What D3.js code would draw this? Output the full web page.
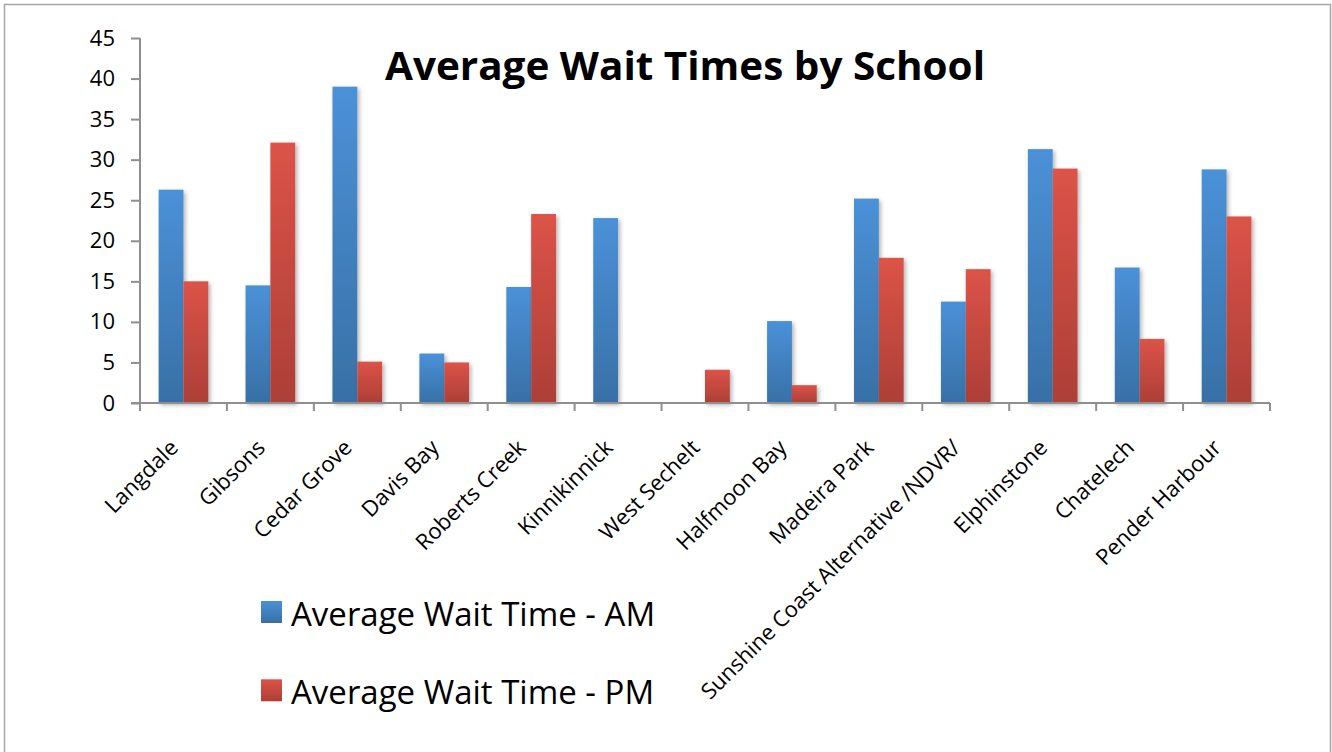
<!DOCTYPE html>
<html>
<head>
<meta charset="utf-8">
<script src="https://cdn.jsdelivr.net/npm/d3@7"></script>
<style>
  body { margin: 0; background: #fff; }
  svg { display: block; font-family: "Open Sans", sans-serif; }
</style>
</head>
<body>
<svg id="chart" width="1332" height="752"></svg>
<script>
"use strict";

// Chart data
const schools = ["Langdale", "Gibsons", "Cedar Grove", "Davis Bay", "Roberts Creek",
    "Kinnikinnick", "West Sechelt", "Halfmoon Bay", "Madeira Park",
    "Sunshine Coast Alternative /NDVR/", "Elphinstone", "Chatelech", "Pender Harbour"];
const waitAM = [26.3, 14.5, 39.0, 6.1, 14.3, 22.8, 0, 10.1, 25.2, 12.5, 31.3, 16.7, 28.8];
const waitPM = [15.0, 32.1, 5.1, 5.0, 23.3, 0, 4.1, 2.2, 17.9, 16.5, 28.9, 7.9, 23.0];
const seriesNames = ["Average Wait Time - AM", "Average Wait Time - PM"];
const yTicks = [0, 5, 10, 15, 20, 25, 30, 35, 40, 45];

const svg = d3.select("#chart");

// outer frame (bottom edge falls off the picture)
svg.append("path")
    .attr("d", "M4.5,760 V4.5 H1330.5 V760")
    .attr("fill", "none")
    .attr("stroke", "#a6a6a6")
    .attr("stroke-width", 1.5);

const plot = { left: 140, right: 1270, top: 38, bottom: 403 };

const x0 = d3.scaleBand()
    .domain(schools)
    .range([plot.left, plot.right])
    .paddingInner(0)
    .paddingOuter(0);

// Excel style 150% gap: pair of bars takes 2/(2+1.5) of the band
const pairW = x0.bandwidth() * 2 / 3.5;
const x1 = d3.scaleBand()
    .domain([0, 1])
    .range([0, pairW]);

const y = d3.scaleLinear()
    .domain([0, 45])
    .range([plot.bottom, plot.top]);

// gradients + shadow
const defs = svg.append("defs");
const grads = [
    { id: "gAM", top: "#4b91d8", bottom: "#3870a6" },
    { id: "gPM", top: "#dc5348", bottom: "#ac3f37" }
];
grads.forEach(g => {
    const lg = defs.append("linearGradient")
        .attr("id", g.id)
        .attr("x1", 0).attr("y1", 0).attr("x2", 0).attr("y2", 1);
    lg.append("stop").attr("offset", "0%").attr("stop-color", g.top);
    lg.append("stop").attr("offset", "100%").attr("stop-color", g.bottom);
});
const shadow = defs.append("filter")
    .attr("id", "shadow")
    .attr("x", "-20%").attr("y", "-10%").attr("width", "150%").attr("height", "130%");
shadow.append("feDropShadow")
    .attr("dx", 2).attr("dy", 2).attr("stdDeviation", 2.2)
    .attr("flood-color", "#000").attr("flood-opacity", 0.3);

// gridlines
svg.append("g")
    .selectAll("line")
    .data(yTicks.slice(1))
    .enter().append("line")
        .attr("x1", plot.left - 9)
        .attr("x2", plot.right)
        .attr("y1", d => y(d))
        .attr("y2", d => y(d))
        .attr("stroke", "#8f8f8f")
        .attr("stroke-width", 2)
        .attr("filter", "url(#shadow)");

// y axis
const yAxis = d3.axisLeft(y)
    .tickValues(yTicks)
    .tickSize(9)
    .tickPadding(16)
    .tickFormat(d3.format("d"));
const yg = svg.append("g")
    .attr("transform", `translate(${plot.left},0)`)
    .call(yAxis);
yg.select(".domain")
    .attr("d", `M0,${plot.top} V${plot.bottom + 8}`)
    .attr("stroke", "#8f8f8f").attr("stroke-width", 2);
yg.selectAll(".tick line").attr("stroke", "#8f8f8f").attr("stroke-width", 2);
yg.selectAll(".tick text")
    .style("font-size", "22px")
    .style("font-family", "'Open Sans', sans-serif")
    .attr("fill", "#000");

// bars
const bars = svg.append("g");
[waitAM, waitPM].forEach((vals, s) => {
    bars.append("g")
        .selectAll("rect")
        .data(vals.map((v, i) => ({ school: schools[i], value: v })).filter(d => d.value > 0))
        .enter().append("rect")
            .attr("x", d => x0(d.school) + (x0.bandwidth() - pairW) / 2 + x1(s))
            .attr("y", d => y(d.value))
            .attr("width", x1.bandwidth())
            .attr("height", d => y(0) - y(d.value))
            .attr("fill", `url(#${grads[s].id})`)
            .attr("filter", "url(#shadow)");
});

// x axis
const xAxis = d3.axisBottom(x0).tickSize(0).tickFormat("");
const xg = svg.append("g")
    .attr("transform", `translate(0,${plot.bottom})`)
    .call(xAxis);
xg.select(".domain")
    .attr("d", `M${plot.left - 9},0 H${plot.right}`)
    .attr("stroke", "#8f8f8f").attr("stroke-width", 2);
// tick marks between categories
xg.selectAll("line.sep")
    .data(d3.range(schools.length + 1))
    .enter().append("line")
        .attr("class", "sep")
        .attr("x1", i => plot.left + i * x0.step())
        .attr("x2", i => plot.left + i * x0.step())
        .attr("y1", 0).attr("y2", 8)
        .attr("stroke", "#8f8f8f").attr("stroke-width", 2);

// rotated category labels
svg.append("g")
    .selectAll("text")
    .data(schools)
    .enter().append("text")
        .attr("transform", d => `translate(${x0(d) + x0.bandwidth() / 2 - 4},${plot.bottom + 46}) rotate(-45)`)
        .attr("text-anchor", "end")
        .style("font-size", "22px")
        .attr("fill", "#000")
        .text(d => d);

// title
svg.append("text")
    .attr("x", 685)
    .attr("y", 80)
    .attr("text-anchor", "middle")
    .attr("font-size", 39)
    .attr("font-weight", "bold")
    .attr("textLength", 600)
    .attr("lengthAdjust", "spacingAndGlyphs")
    .attr("fill", "#000")
    .text("Average Wait Times by School");

// legend
const legend = svg.append("g");
seriesNames.forEach((name, s) => {
    const top = 601 + s * 78.3;
    legend.append("rect")
        .attr("x", 261).attr("y", top)
        .attr("width", 21).attr("height", 22)
        .attr("fill", `url(#${grads[s].id})`);
    legend.append("text")
        .attr("x", 291).attr("y", top + 25)
        .attr("font-size", 33)
        .attr("fill", "#000")
        .text(name);
});
</script>
</body>
</html>
